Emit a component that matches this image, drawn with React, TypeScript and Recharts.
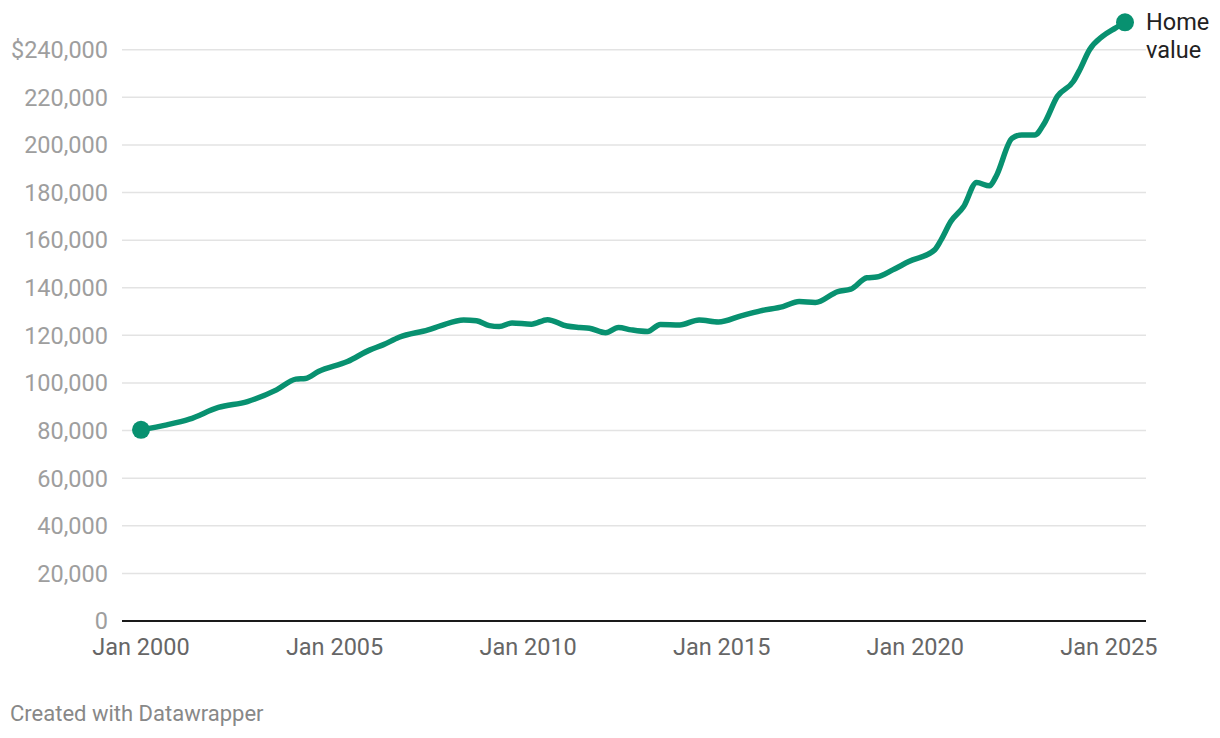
import { LineChart, Line, XAxis, YAxis, CartesianGrid } from "recharts";

// months since Jan 2000
const MONTHS = [
  0, 8, 15, 24, 33, 42, 48, 51, 55, 64, 71, 75, 80, 89, 93, 100, 104, 108, 111, 115,
  121, 126, 132, 136, 139, 144, 148, 152, 157, 161, 167, 173, 179, 186, 192, 199, 204,
  209, 216, 220, 225, 228, 233, 238, 246, 248, 251, 255, 259, 263, 265, 270, 273, 277,
  280, 284, 289, 291, 294, 298, 302, 305,
];

// home value, in thousands of dollars
const HOME_VALUE = [
  80.3, 82.4, 84.8, 89.7, 92.2, 97.1, 101.6, 101.9, 104.8, 109.0, 113.9, 116.0, 119.2,
  122.3, 124.1, 126.5, 126.1, 124.1, 123.7, 125.2, 124.7, 126.6, 123.9, 123.3, 123.0,
  121.1, 123.3, 122.3, 121.6, 124.6, 124.4, 126.5, 125.6, 128.2, 130.3, 132.1, 134.2,
  133.8, 138.4, 139.4, 144.2, 144.5, 147.5, 151.0, 155.9, 160.1, 167.8, 174.1, 184.2,
  182.8, 186.7, 202.8, 204.2, 204.2, 209.1, 220.3, 226.7, 231.6, 240.0, 245.6, 249.1,
  251.5,
];

const Y_TICKS = [0, 20000, 40000, 60000, 80000, 100000, 120000, 140000, 160000, 180000, 200000, 220000, 240000];
const X_TICKS = [0, 60, 120, 180, 240, 300];
const SERIES_NAME = ["Home", "value"];

const GREEN = "#089170";
const FONT = "Roboto, sans-serif";
const FS = 23.5;

const data = MONTHS.map((m, i) => ({ month: m, value: HOME_VALUE[i] * 1000 }));

function EndDot(props: any) {
  const { cx, cy, index, key } = props;
  if (index === 0) {
    return <circle key={key} cx={cx} cy={cy} r={9} fill={GREEN} />;
  }
  if (index === data.length - 1) {
    return (
      <g key={key}>
        <circle cx={cx} cy={cy} r={9} fill={GREEN} />
        <text x={cx + 21} y={cy + 8} fontSize={FS} fill="#222" fontFamily={FONT}>
          <tspan x={cx + 21}>{SERIES_NAME[0]}</tspan>
          <tspan x={cx + 21} dy={28}>{SERIES_NAME[1]}</tspan>
        </text>
      </g>
    );
  }
  return <g key={key} />;
}

export default function App() {
  return (
    <div style={{ position: "absolute", left: 0, top: 0, width: 1220, height: 738, background: "#fff", fontFamily: FONT }}>
      <LineChart width={1220} height={738} data={data} margin={{ top: 14, right: 74, bottom: 77, left: 0 }}>
        <CartesianGrid vertical={false} stroke="#e3e3e3" strokeWidth={1.5} syncWithTicks />
        <XAxis
          dataKey="month"
          type="number"
          domain={[0, 305]}
          ticks={X_TICKS}
          tickFormatter={(v) => `Jan ${2000 + v / 12}`}
          padding={{ left: 19, right: 21 }}
          height={40}
          axisLine={{ stroke: "#1a1a1a", strokeWidth: 2 }}
          tickLine={false}
          tickMargin={11}
          tick={{ fontSize: FS, fill: "#666", fontFamily: FONT }}
        />
        <YAxis
          type="number"
          domain={[0, 255000]}
          ticks={Y_TICKS}
          width={122}
          axisLine={false}
          tickLine={false}
          tickMargin={8}
          tickFormatter={(v) => (v === 240000 ? "$240,000" : v.toLocaleString("en-US"))}
          tick={{ fontSize: FS, fill: "#9e9e9e", fontFamily: FONT }}
        />
        <Line
          type="monotone"
          dataKey="value"
          stroke={GREEN}
          strokeWidth={5.5}
          dot={EndDot}
          activeDot={false}
          isAnimationActive={false}
        />
      </LineChart>
      <div style={{ position: "absolute", left: 10, top: 701, fontSize: 22, color: "#888" }}>
        Created with Datawrapper
      </div>
    </div>
  );
}
